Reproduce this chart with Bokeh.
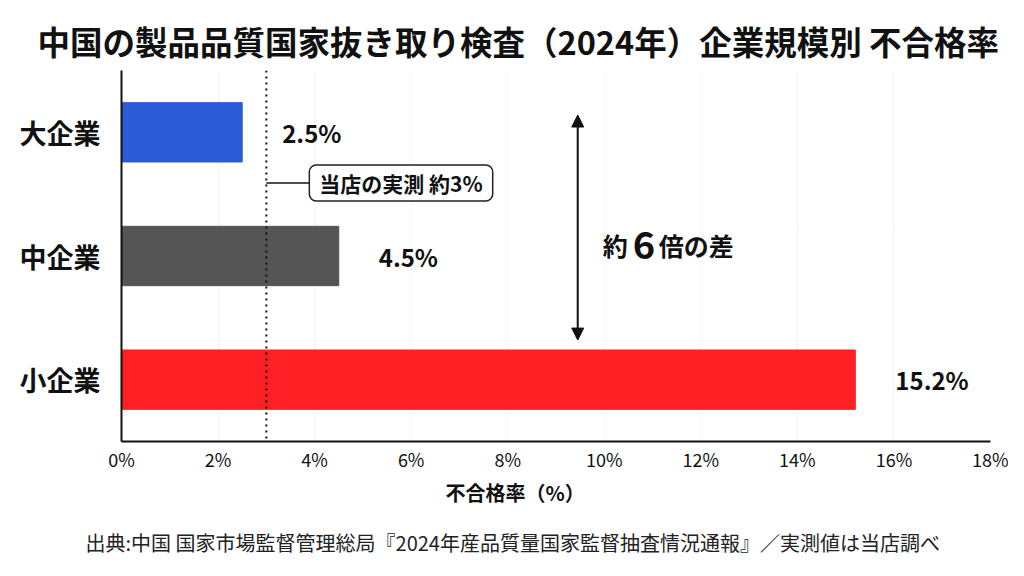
from bokeh.plotting import figure
from bokeh.models import (ColumnDataSource, Range1d, FactorRange, Span, Label, Title,
                          Arrow, NormalHead, FixedTicker, CustomJSTickFormatter)
from bokeh.embed import file_html
from bokeh.resources import INLINE

# data
categories = ["大企業", "中企業", "小企業"]
rates = [2.5, 4.5, 15.2]
rate_labels = ["2.5%", "4.5%", "15.2%"]
colors = ["#2b5cd6", "#555555", "#ff2026"]
x_ticks = [0, 2, 4, 6, 8, 10, 12, 14, 16, 18]
store_rate = 3.0
store_text = "当店の実測 約3%"
gap_text = ["約", "6", "倍の差"]

title_text = "中国の製品品質国家抜き取り検査（2024年）企業規模別 不合格率"
x_title = "不合格率（%）"
source_text = "出典:中国 国家市場監督管理総局『2024年産品質量国家監督抽査情況通報』／実測値は当店調べ"

FONT = "Noto Sans CJK JP"

source = ColumnDataSource(data=dict(cat=categories, rate=rates, label=rate_labels, color=colors))

p = figure(
    width=1008, height=576,
    y_range=FactorRange(*reversed(categories)),
    x_range=Range1d(0, 18),
    output_backend="svg", toolbar_location=None,
    min_border_left=121, min_border_right=18,
    min_border_top=70, min_border_bottom=135,
)
p.outline_line_color = None
p.background_fill_color = "white"
p.border_fill_color = "white"

p.hbar(y="cat", right="rate", left=0, height=0.48, color="color", source=source)

# value labels
p.text(x="rate", y="cat", text="label", source=source, x_offset=40,
       text_baseline="middle", text_align="left", text_font=dict(value=FONT),
       text_font_style="bold", text_font_size="24px", text_color="#111111")

# axes
p.xaxis.ticker = FixedTicker(ticks=x_ticks)
p.xaxis.formatter = CustomJSTickFormatter(code="return tick + '%';")
p.xaxis.major_label_text_font = FONT
p.xaxis.major_label_text_font_size = "18px"
p.xaxis.major_label_text_color = "#111111"
p.xaxis.major_label_standoff = 4
p.yaxis.major_label_text_font = FONT
p.yaxis.major_label_text_font_size = "27px"
p.yaxis.major_label_text_font_style = "bold"
p.yaxis.major_label_text_color = "#111111"
p.yaxis.major_label_standoff = 21
for ax in (p.xaxis, p.yaxis):
    ax.axis_line_color = "#111111"
    ax.axis_line_width = 2
    ax.major_tick_line_color = None
    ax.minor_tick_line_color = None
    ax.major_tick_out = 0
    ax.major_tick_in = 0

p.ygrid.grid_line_color = None
p.xgrid.grid_line_color = "#d8d8d8"
p.xgrid.grid_line_dash = "1 3"
p.xgrid.grid_line_width = 1

# store measurement line and callout
p.add_layout(Span(location=store_rate, dimension="height", line_color="#111111",
                  line_width=2, line_dash="2 4"))
top_pos = len(categories) - 0.5
callout_y = top_pos - 0.41
p.segment(x0=[store_rate], y0=[callout_y], x1=[store_rate + 0.9], y1=[callout_y],
          line_color="#111111", line_width=1.5)
p.add_layout(Label(x=store_rate, y=callout_y, x_offset=43, text=store_text,
                   text_font=FONT, text_font_style="bold", text_font_size="21px",
                   text_baseline="middle", text_color="#111111",
                   background_fill_color="white", border_line_color="#222222",
                   border_line_width=1.5, border_radius=7,
                   padding=dict(left=10, right=10, top=3, bottom=3)))

# 6x gap arrow
arrow_x = 9.45
p.add_layout(Arrow(x_start=arrow_x, y_start=top_pos + 0.14, x_end=arrow_x, y_end=0.82,
                   line_width=2, line_color="#111111",
                   start=NormalHead(size=12, fill_color="#111111", line_color="#111111"),
                   end=NormalHead(size=12, fill_color="#111111", line_color="#111111")))
gap_y = 1.585
for txt, off, size in zip(gap_text, [25, 55, 81], ["25px", "38px", "25px"]):
    p.add_layout(Label(x=arrow_x, y=gap_y, x_offset=off, text=txt, text_font=FONT,
                       text_font_style="bold", text_font_size=size,
                       text_baseline="middle", text_color="#111111"))

# title, axis title, source note
p.add_layout(Title(text=title_text, align="left", offset=-84, standoff=14,
                   text_line_height=0.8,
                   text_font=FONT, text_font_style="bold", text_font_size="32.5px",
                   text_color="#111111"), "above")
p.add_layout(Title(text=x_title, align="left", offset=324, standoff=3,
                   text_font=FONT, text_font_style="bold", text_font_size="20px",
                   text_color="#111111"), "below")
p.add_layout(Title(text=source_text, align="left", offset=-36, standoff=34,
                   text_font=FONT, text_font_style="normal", text_font_size="20px",
                   text_color="#222222"), "below")

open("out.html", "w").write(file_html(p, INLINE))
